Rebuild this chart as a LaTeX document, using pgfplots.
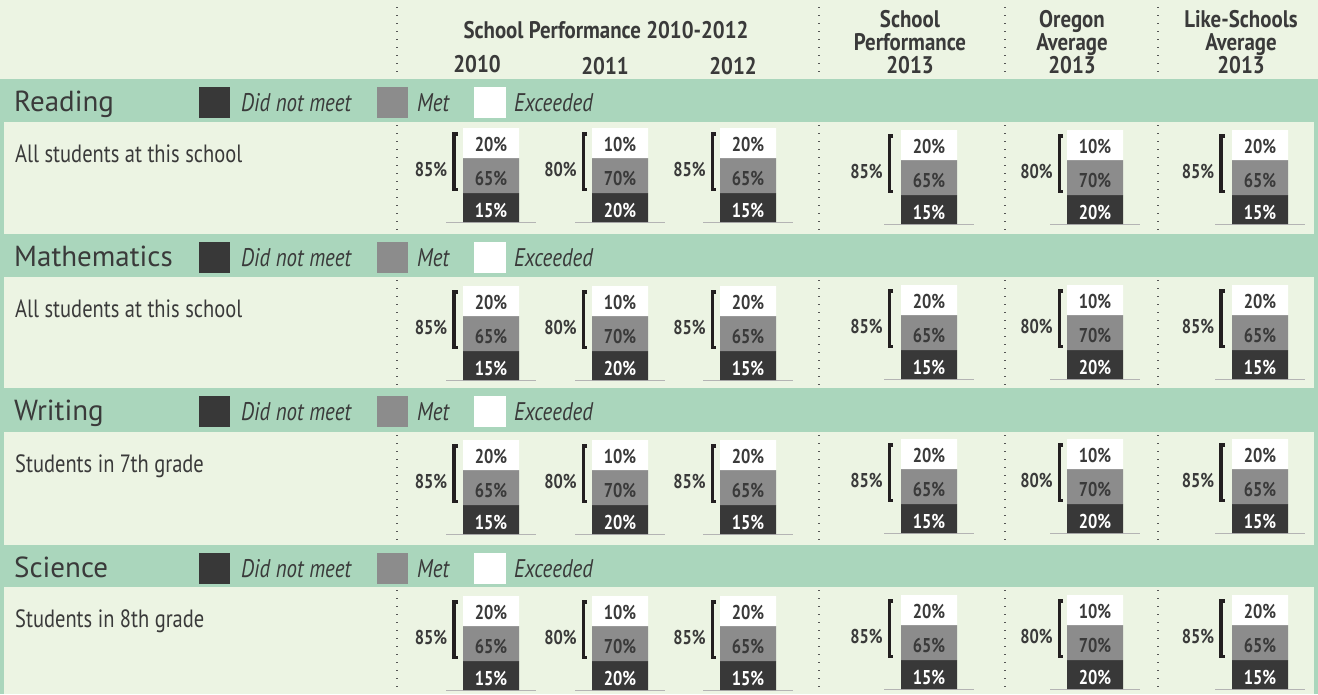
\documentclass[border=0pt]{standalone}
\usepackage{fontspec}
\setmainfont{PT Sans}
\newfontfamily\cond[FakeStretch=0.82]{PT Sans}
\newfontfamily\condh[FakeStretch=0.87]{PT Sans}
\usepackage{pgfplots}
\pgfplotsset{compat=1.18}
\usepackage{pgfplotstable}

\definecolor{bandg}{HTML}{AAD6BC}
\definecolor{bgl}{HTML}{ECF4E3}
\definecolor{dkbar}{HTML}{383838}
\definecolor{grbar}{HTML}{8C8C8C}
\definecolor{txt}{HTML}{3A3A3A}
\definecolor{brk}{HTML}{231F20}
\definecolor{basegray}{HTML}{B4B4B4}
\definecolor{dotc}{HTML}{555555}

\newcommand\hdr{\condh\bfseries\fontsize{24}{23}\selectfont}
\newcommand\lab{\cond\bfseries\fontsize{20}{20}\selectfont}
\newcommand\bandf{\fontsize{29}{29}\selectfont}
\newcommand\legf{\cond\itshape\fontsize{25.5}{25.5}\selectfont}
\newcommand\panf{\cond\fontsize{25}{25}\selectfont}

\pgfdeclareplotmark{lbr}{%
  \pgfsetmiterjoin
  \pgfpathmoveto{\pgfqpoint{3.5pt}{27.75pt}}%
  \pgfpathlineto{\pgfqpoint{0pt}{27.75pt}}%
  \pgfpathlineto{\pgfqpoint{0pt}{-27.75pt}}%
  \pgfpathlineto{\pgfqpoint{3.5pt}{-27.75pt}}%
  \pgfusepathqstroke}
\pgfdeclareplotmark{baseln}{%
  \pgfpathmoveto{\pgfqpoint{-45pt}{0pt}}%
  \pgfpathlineto{\pgfqpoint{45pt}{0pt}}%
  \pgfusepathqstroke}

% subject, bar centre, bar top (px from top), segment heights (drawn equal),
% Exceeded / Met / Did not meet percentages, bracket x, Met+Exceeded
\pgfplotstableread{
subj x top wh gh dh exc met dnm bx tot
Reading 491 128 30 35 29 20 65 15 454 85
Reading 620 128 30 35 29 10 70 20 583.5 80
Reading 748 128 30 35 29 20 65 15 712.5 85
Reading 929 130 30 35 29 20 65 15 889.5 85
Reading 1095 130 30 35 29 10 70 20 1059.5 80
Reading 1260 130 30 35 29 20 65 15 1221 85
Mathematics 491 286 30 35 29 20 65 15 454 85
Mathematics 620 286 30 35 29 10 70 20 583.5 80
Mathematics 748 286 30 35 29 20 65 15 712.5 85
Mathematics 929 285 30 35 29 20 65 15 889.5 85
Mathematics 1095 285 30 35 29 10 70 20 1059.5 80
Mathematics 1260 285 30 35 29 20 65 15 1221 85
Writing 491 440 30 35 29 20 65 15 454 85
Writing 620 440 30 35 29 10 70 20 583.5 80
Writing 748 440 30 35 29 20 65 15 712.5 85
Writing 929 439 30 35 29 20 65 15 889.5 85
Writing 1095 439 30 35 29 10 70 20 1059.5 80
Writing 1260 439 30 35 29 20 65 15 1221 85
Science 491 596 30 35 29 20 65 15 454 85
Science 620 596 30 35 29 10 70 20 583.5 80
Science 748 596 30 35 29 20 65 15 712.5 85
Science 929 595 30 35 29 20 65 15 889.5 85
Science 1095 595 30 35 29 10 70 20 1059.5 80
Science 1260 595 30 35 29 20 65 15 1221 85
}\data

\pgfplotsset{canvas/.style={at={(0pt,0pt)}, anchor=south west, scale only axis,
  width=1318pt, height=694pt, xmin=0, xmax=1318, ymin=0, ymax=694,
  y dir=reverse, hide axis, clip=false, enlargelimits=false},
  seglab/.style={draw=none, nodes near coords={\pgfplotspointmeta\%}, point meta=explicit symbolic,
    nodes near coords align={center},
    every node near coord/.append style={font=\lab, inner sep=0pt}}}

\newcommand\panel[3]{%
  \fill[bgl] (axis cs:4,#1) rectangle (axis cs:1314,#2);
  \node[anchor=base west, inner sep=0, font=\panf, text=txt] at (axis cs:15,#1+40) {#3};
  \pgfplotsinvokeforeach{397,819,1005,1158}{%
    \draw[dotc, line width=1.2pt, dash pattern=on 1.2pt off 6.8pt] (axis cs:##1,#1+3) -- (axis cs:##1,#2-2);}%
}
\newcommand\band[2]{%
  \node[anchor=base west, inner sep=0, font=\bandf, text=txt] at (axis cs:14,#1+32) {#2};
  \fill[dkbar] (axis cs:199,#1+8) rectangle (axis cs:230,#1+39);
  \node[anchor=base west, inner sep=0, font=\legf, text=txt] at (axis cs:241,#1+32) {Did not meet};
  \fill[grbar] (axis cs:377,#1+8) rectangle (axis cs:408,#1+39);
  \node[anchor=base west, inner sep=0, font=\legf, text=txt] at (axis cs:417,#1+32) {Met};
  \fill[white] (axis cs:474,#1+8) rectangle (axis cs:506,#1+39);
  \node[anchor=base west, inner sep=0, font=\legf, text=txt] at (axis cs:514,#1+32) {Exceeded};
}

\begin{document}
\begin{tikzpicture}
\begin{axis}[canvas]
  \fill[bandg] (axis cs:0,0) rectangle (axis cs:1318,694);
  \fill[bgl] (axis cs:0,0) rectangle (axis cs:1318,79);
  \pgfplotsinvokeforeach{397,819,1005,1158}{%
    \draw[dotc, line width=1.2pt, dash pattern=on 1.2pt off 6.8pt] (axis cs:#1,7) -- (axis cs:#1,75);}
  \panel{122}{234}{All students at this school}
  \panel{277}{388}{All students at this school}
  \panel{432}{545}{Students in 7th grade}
  \panel{587}{694}{Students in 8th grade}
  \band{79}{Reading}
  \band{234}{Mathematics}
  \band{388}{Writing}
  \band{545}{Science}
  % header
  \node[anchor=base, inner sep=0, font=\hdr, text=txt] at (axis cs:606,38) {School Performance 2010-2012};
  \node[anchor=base, inner sep=0, font=\hdr, text=txt] at (axis cs:477,72) {2010};
  \node[anchor=base, inner sep=0, font=\hdr, text=txt] at (axis cs:605,74) {2011};
  \node[anchor=base, inner sep=0, font=\hdr, text=txt] at (axis cs:733,74) {2012};
  \node[anchor=base, inner sep=0, align=center, font=\hdr, text=txt] at (axis cs:910,73) {School\\Performance\\2013};
  \node[anchor=base, inner sep=0, align=center, font=\hdr, text=txt] at (axis cs:1072,73) {Oregon\\Average\\2013};
  \node[anchor=base, inner sep=0, align=center, font=\hdr, text=txt] at (axis cs:1241,73) {Like-Schools\\Average\\2013};
  % baselines under the bars
  \addplot[only marks, mark=baseln, color=basegray, mark options={line width=1pt}]
    table[x=x, y expr=\thisrow{top}+94.5] {\data};
  % brackets spanning Met + Exceeded, labelled with their sum
  \addplot[only marks, mark=lbr, color=brk, mark options={line width=3.5pt},
    nodes near coords={\pgfplotspointmeta\%}, point meta=explicit symbolic,
    nodes near coords align={east},
    every node near coord/.append style={font=\lab, text=txt, inner sep=0pt, xshift=-5pt, yshift=-7.5pt}]
    table[x=bx, y expr=\thisrow{top}+33.5, meta=tot] {\data};
\end{axis}
% stacked bars (segments drawn at equal heights, as in the original)
\begin{axis}[canvas, ybar stacked, bar width=56]
  \addplot[draw=none, fill=none] table[x=x, y=top] {\data};
  \addplot[fill=white, draw=none] table[x=x, y=wh] {\data};
  \addplot[fill=grbar, draw=none] table[x=x, y=gh] {\data};
  \addplot[fill=dkbar, draw=none] table[x=x, y=dh] {\data};
\end{axis}
% segment labels
\begin{axis}[canvas]
  \addplot[seglab, every node near coord/.append style={text=txt}]
    table[x=x, y expr=\thisrow{top}+16, meta=exc] {\data};
  \addplot[seglab, every node near coord/.append style={text=txt}]
    table[x=x, y expr=\thisrow{top}+50.5, meta=met] {\data};
  \addplot[seglab, every node near coord/.append style={text=white}]
    table[x=x, y expr=\thisrow{top}+82.5, meta=dnm] {\data};
\end{axis}
\end{tikzpicture}
\end{document}
